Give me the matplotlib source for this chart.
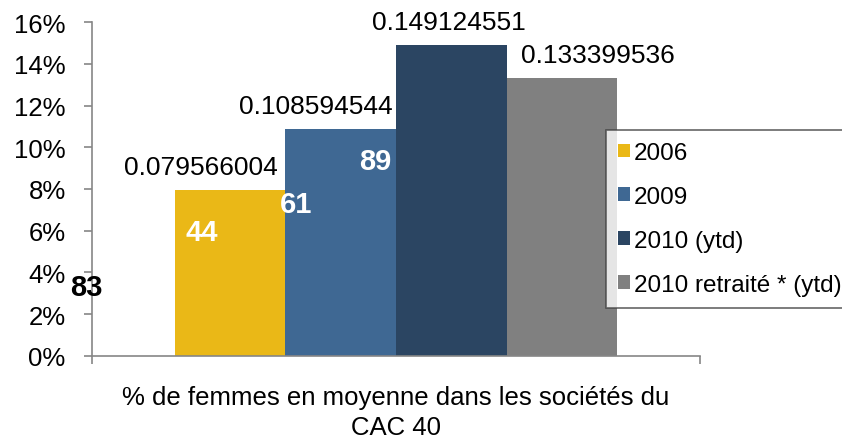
import matplotlib.pyplot as plt
from matplotlib.patches import Patch

plt.rcParams['font.family'] = ['Liberation Sans', 'DejaVu Sans']

series = ["2006", "2009", "2010 (ytd)", "2010 retraité * (ytd)"]
values = [0.079566004, 0.108594544, 0.149124551, 0.133399536]
colors = ["#EAB817", "#3F6893", "#2B4562", "#808080"]
category = "% de femmes en moyenne dans les sociétés du\nCAC 40"

# count labels drawn on the chart (text, colour)
counts = ["83", "44", "61", "89"]
count_colors = ["black", "white", "white", "white"]
count_pos = [(-0.51, 0.033), (-0.32, 0.0595), (-0.164, 0.0728), (-0.034, 0.0935)]

# value label horizontal shift (px) relative to bar centre
label_shift = [-29, -25, -2, 36]

fig = plt.figure(figsize=(8.42, 4.39), dpi=100)
ax = fig.add_axes([0.1093, 0.1868, 0.7221, 0.7608])

width = 0.182
for i, (name, v, c) in enumerate(zip(series, values, colors)):
    x = (i - 1.5) * width
    ax.bar(x, v, width=width, color=c, label=name, zorder=2)
    ax.annotate(f"{v:.9f}", (x, v), xytext=(label_shift[i] * 0.72, 23 * 0.72),
                textcoords="offset points", ha="center", va="center", fontsize=19)

for t, c, (x, y) in zip(counts, count_colors, count_pos):
    ax.text(x, y, t, color=c, fontsize=21, fontweight="bold", ha="center", va="center",
            zorder=3, clip_on=False)

ax.set_xlim(-0.5, 0.5)
ax.set_ylim(0, 0.16)
ax.set_yticks([i / 100 for i in range(0, 17, 2)])
ax.set_yticklabels([f"{i}%" for i in range(0, 17, 2)], fontsize=18.5)
ax.set_xticks([-0.5, 0.5])
ax.set_xticklabels(["", ""])
ax.tick_params(axis="both", direction="out", length=6, color="#868686", width=1.2)
ax.tick_params(axis="y", pad=13)

for s in ["top", "right"]:
    ax.spines[s].set_visible(False)
for s in ["left", "bottom"]:
    ax.spines[s].set_color("#868686")
    ax.spines[s].set_linewidth(1.2)

fig.text(0.470, 0.060, category, ha="center", va="center", fontsize=18.5, linespacing=1.3)

handles = [Patch(facecolor=c, edgecolor="none") for c in colors]
leg = fig.legend(handles, series, loc="upper left", bbox_to_anchor=(606 / 842, 1 - 131 / 439),
                 fontsize=17.5, frameon=True, fancybox=False, handlelength=0.5, handleheight=0.5,
                 handletextpad=0.15, labelspacing=0.9, borderpad=0.5, borderaxespad=0)
leg.get_frame().set_edgecolor("#404040")
leg.get_frame().set_linewidth(1.2)

fig.savefig("out.png", dpi=100)
